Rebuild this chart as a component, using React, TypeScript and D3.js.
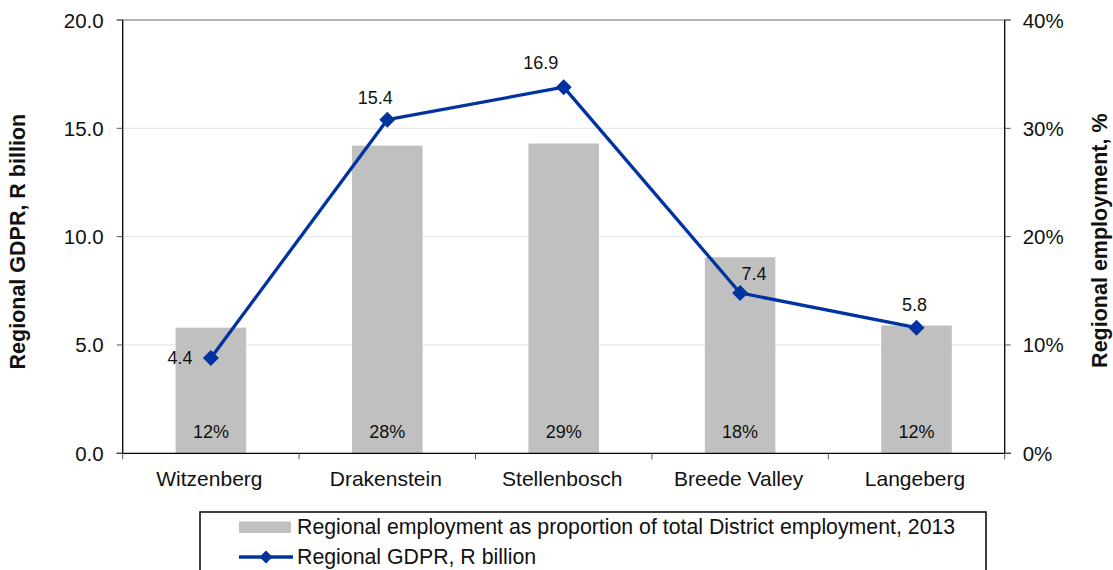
import React from "react";
import * as d3 from "d3";

const categories = ["Witzenberg", "Drakenstein", "Stellenbosch", "Breede Valley", "Langeberg"];
const employmentShare = [11.6, 28.4, 28.6, 18.1, 11.8]; // %
const employmentLabels = ["12%", "28%", "29%", "18%", "12%"];
const gdpr = [4.4, 15.4, 16.9, 7.4, 5.8]; // R billion
const leftTicks = [0, 5, 10, 15, 20];
const rightTicks = [0, 10, 20, 30, 40];
const legendLabels = [
  "Regional employment as proportion of total District employment, 2013",
  "Regional GDPR, R billion",
];

const W = 1113;
const H = 570;
const M = { left: 122.7, right: 1004.7, top: 20, bottom: 453.3 };
const FONT = "'Liberation Sans', Arial, sans-serif";
const BLUE = "#0033a0";
const GREY = "#c0c0c0";

// label offsets relative to the point (dx, dy)
const lineLabelOffsets: [number, number][] = [
  [-31, 0],
  [-12, -22],
  [-23, -24],
  [14, -19],
  [-2, -23],
];

export default function App() {
  const x = d3.scaleBand<string>().domain(categories).range([M.left, M.right]).paddingInner(0).paddingOuter(0);
  const yL = d3.scaleLinear().domain([0, 20]).range([M.bottom, M.top]);
  const yR = d3.scaleLinear().domain([0, 40]).range([M.bottom, M.top]);
  const bw = x.bandwidth() * 0.4;
  const cx = (c: string) => (x(c) as number) + x.bandwidth() / 2;

  const line = d3
    .line<number>()
    .x((_, i) => cx(categories[i]))
    .y((d) => yL(d));

  const diamond = (px: number, py: number, r: number) =>
    `M${px},${py - r}L${px + r},${py}L${px},${py + r}L${px - r},${py}Z`;

  const boundaries = categories.map((c) => x(c) as number).concat([M.right]);

  return (
    <svg width={W} height={H} style={{ position: "absolute", left: 0, top: 0, fontFamily: FONT }}>
      <rect x={0} y={0} width={W} height={H} fill="#fff" />
      {/* gridlines */}
      {leftTicks.slice(1, -1).map((t) => (
        <line key={"g" + t} x1={M.left} x2={M.right} y1={yL(t)} y2={yL(t)} stroke="#e3e3e3" strokeWidth={1} />
      ))}
      <line x1={M.left - 6} x2={M.right + 6} y1={yL(20)} y2={yL(20)} stroke="#9a9a9a" strokeWidth={1.5} />
      {/* bars */}
      {categories.map((c, i) => (
        <rect
          key={"b" + c}
          x={cx(c) - bw / 2}
          y={yR(employmentShare[i])}
          width={bw}
          height={yR(0) - yR(employmentShare[i])}
          fill={GREY}
        />
      ))}
      {categories.map((c, i) => (
        <text key={"bl" + c} x={cx(c)} y={yR(0) - 21} textAnchor="middle" dominantBaseline="central" fontSize={18} fill="#111">
          {employmentLabels[i]}
        </text>
      ))}
      {/* axes */}
      <line x1={M.left} x2={M.left} y1={M.top} y2={M.bottom} stroke="#000" strokeWidth={1.3} />
      <line x1={M.right} x2={M.right} y1={M.top} y2={M.bottom} stroke="#000" strokeWidth={1.3} />
      <line x1={M.left - 6} x2={M.right + 6} y1={M.bottom} y2={M.bottom} stroke="#000" strokeWidth={1.3} />
      {leftTicks.map((t) => (
        <g key={"lt" + t}>
          <line x1={M.left - 6} x2={M.left} y1={yL(t)} y2={yL(t)} stroke="#555" strokeWidth={1} />
          <text x={M.left - 19} y={yL(t)} textAnchor="end" dominantBaseline="central" fontSize={20.5} fill="#111">
            {t.toFixed(1)}
          </text>
        </g>
      ))}
      {rightTicks.map((t) => (
        <g key={"rt" + t}>
          <line x1={M.right} x2={M.right + 6} y1={yR(t)} y2={yR(t)} stroke="#555" strokeWidth={1} />
          <text x={M.right + 18} y={yR(t)} textAnchor="start" dominantBaseline="central" fontSize={20.5} fill="#111">
            {t + "%"}
          </text>
        </g>
      ))}
      {boundaries.map((b, i) => (
        <line key={"ct" + i} x1={b} x2={b} y1={M.bottom} y2={M.bottom + 6} stroke="#555" strokeWidth={1} />
      ))}
      {categories.map((c) => (
        <text key={"cl" + c} x={cx(c) - 1.5} y={M.bottom + 25} textAnchor="middle" dominantBaseline="central" fontSize={21} fill="#111">
          {c}
        </text>
      ))}
      {/* axis titles */}
      <text
        transform={`translate(18,${(M.top + M.bottom) / 2 + 5}) rotate(-90)`}
        textAnchor="middle"
        dominantBaseline="central"
        fontSize={21.5}
        fontWeight="bold"
        fill="#111"
      >
        Regional GDPR, R billion
      </text>
      <text
        transform={`translate(1100,${(M.top + M.bottom) / 2 + 4}) rotate(-90)`}
        textAnchor="middle"
        dominantBaseline="central"
        fontSize={21.5}
        fontWeight="bold"
        fill="#111"
      >
        Regional employment, %
      </text>
      {/* line series */}
      <path d={line(gdpr) || ""} fill="none" stroke={BLUE} strokeWidth={3.3} strokeLinejoin="round" />
      {gdpr.map((v, i) => (
        <path key={"m" + i} d={diamond(cx(categories[i]), yL(v), 8)} fill={BLUE} />
      ))}
      {gdpr.map((v, i) => (
        <text
          key={"ll" + i}
          x={cx(categories[i]) + lineLabelOffsets[i][0]}
          y={yL(v) + lineLabelOffsets[i][1]}
          textAnchor="middle"
          dominantBaseline="central"
          fontSize={18}
          fill="#111"
        >
          {v.toFixed(1)}
        </text>
      ))}
      {/* legend */}
      <rect x={200} y={512} width={786} height={70} fill="#fff" stroke="#000" strokeWidth={1.5} />
      <rect x={239} y={521.5} width={52} height={11.5} fill={GREY} />
      <text x={297} y={527} dominantBaseline="central" fontSize={21.3} fill="#111">
        {legendLabels[0]}
      </text>
      <line x1={239} x2={293} y1={557} y2={557} stroke={BLUE} strokeWidth={3.3} />
      <path d={diamond(266, 557, 6.5)} fill={BLUE} />
      <text x={297} y={557} dominantBaseline="central" fontSize={21.3} fill="#111">
        {legendLabels[1]}
      </text>
    </svg>
  );
}
